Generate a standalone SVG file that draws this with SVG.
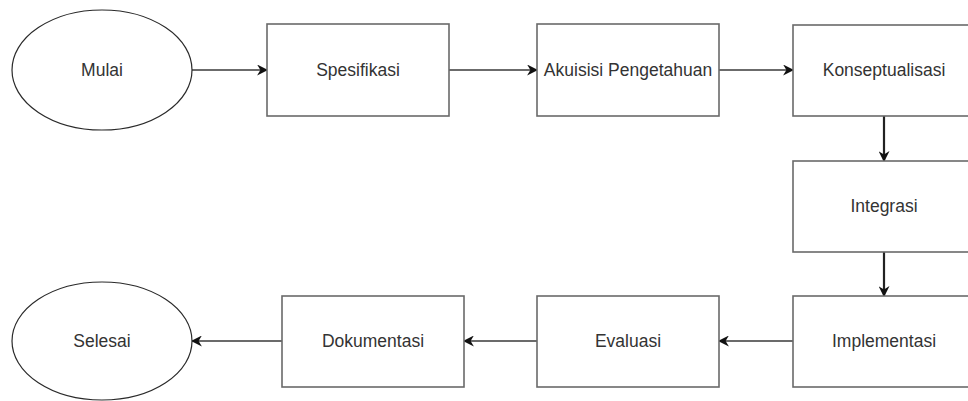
<svg xmlns="http://www.w3.org/2000/svg" width="968" height="401" viewBox="0 0 968 401">
<style>
.box{fill:#fff;stroke:#6a6a6a;stroke-width:1.6}
.ell{fill:#fff;stroke:#2a2a2a;stroke-width:1.2}
.lbl{font-family:"Liberation Sans",Arial,sans-serif;font-size:17.5px;fill:#333;text-anchor:middle;dominant-baseline:central}
.edge{stroke:#3a3a3a;stroke-width:1.7;fill:none;marker-end:url(#ah)}
.vedge{stroke:#222;stroke-width:2.2;fill:none;marker-end:url(#ah)}
</style>
<defs>
<marker id="ah" viewBox="0 0 10 10" refX="9" refY="5" markerWidth="11" markerHeight="11" markerUnits="userSpaceOnUse" orient="auto">
<path d="M0,0 L10,5 L0,10 L3,5 Z" fill="#111"/>
</marker>
</defs>
<rect width="968" height="401" fill="#fff"/>
<g id="connectors">
<line class="edge" x1="192" y1="70" x2="267" y2="70"/>
<line class="edge" x1="449" y1="70" x2="537" y2="70"/>
<line class="edge" x1="719" y1="70" x2="793" y2="70"/>
<line class="vedge" x1="884" y1="116" x2="884" y2="161"/>
<line class="vedge" x1="884" y1="252" x2="884" y2="296"/>
<line class="edge" x1="793" y1="341" x2="719" y2="341"/>
<line class="edge" x1="537" y1="341" x2="464" y2="341"/>
<line class="edge" x1="282" y1="341" x2="192" y2="341"/>
</g>
<g id="mulai"><ellipse class="ell" cx="102" cy="70" rx="90" ry="60"/><text class="lbl" x="102" y="70">Mulai</text></g>
<g id="spesifikasi"><rect class="box" x="267" y="24" width="182" height="92"/><text class="lbl" x="358" y="70">Spesifikasi</text></g>
<g id="akuisisi"><rect class="box" x="537" y="24" width="182" height="92"/><text class="lbl" x="628" y="70">Akuisisi Pengetahuan</text></g>
<g id="konseptualisasi"><rect class="box" x="793" y="25" width="182" height="91"/><text class="lbl" x="884" y="70">Konseptualisasi</text></g>
<g id="integrasi"><rect class="box" x="793" y="161" width="182" height="91"/><text class="lbl" x="884" y="206">Integrasi</text></g>
<g id="implementasi"><rect class="box" x="793" y="296" width="182" height="91"/><text class="lbl" x="884" y="341">Implementasi</text></g>
<g id="evaluasi"><rect class="box" x="537" y="296" width="182" height="91"/><text class="lbl" x="628" y="341">Evaluasi</text></g>
<g id="dokumentasi"><rect class="box" x="282" y="296" width="182" height="91"/><text class="lbl" x="373" y="341">Dokumentasi</text></g>
<g id="selesai"><ellipse class="ell" cx="102" cy="341" rx="90" ry="59"/><text class="lbl" x="102" y="341">Selesai</text></g>
</svg>
